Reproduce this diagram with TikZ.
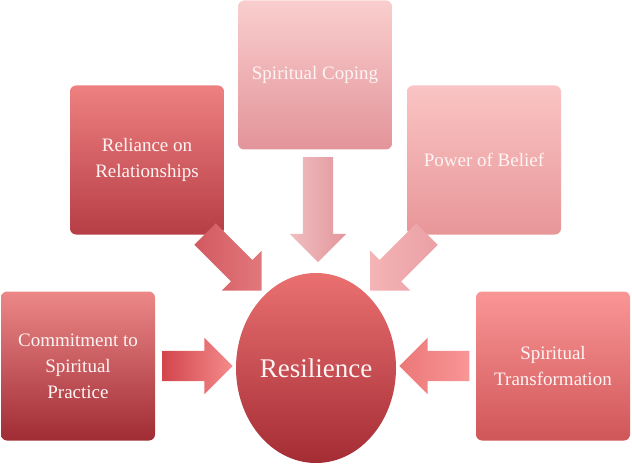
\documentclass[tikz,border=0pt]{standalone}
\usepackage{fontspec}
\setmainfont{Liberation Serif}
\usetikzlibrary{shapes.arrows,shapes.geometric}
\definecolor{txt}{HTML}{FFF4F4}
\tikzset{
  box/.style={rounded corners=6pt, minimum width=154pt, minimum height=149pt, align=center,
    text=txt, font=\fontsize{19}{26}\selectfont, draw=none},
  blk/.style={shape=single arrow, single arrow head extend=13pt, single arrow head indent=0pt,
    inner xsep=0pt, inner ysep=15pt, text width=0pt, draw=none},
}
\begin{document}
\begin{tikzpicture}[x=1pt,y=-1pt]
\useasboundingbox (0,0) rectangle (632,468);
\node[box, top color={rgb,255:red,236;green,136;blue,136}, bottom color={rgb,255:red,160;green,44;blue,52}] (c) at (78,366) {Commitment to\\Spiritual\\Practice};
\node[box, top color={rgb,255:red,238;green,128;blue,128}, bottom color={rgb,255:red,182;green,62;blue,70}] (r) at (147,160) {Reliance on\\Relationships};
\node[box, top color={rgb,255:red,250;green,206;blue,206}, bottom color={rgb,255:red,226;green,148;blue,154}] (s) at (315,75) {Spiritual Coping};
\node[box, top color={rgb,255:red,250;green,196;blue,196}, bottom color={rgb,255:red,232;green,150;blue,152}] (p) at (484,160) {Power of Belief};
\node[box, top color={rgb,255:red,250;green,150;blue,150}, bottom color={rgb,255:red,208;green,86;blue,88}] (t) at (553,366) {Spiritual\\Transformation};
\node[ellipse, minimum width=160pt, minimum height=190pt, inner sep=0pt, text=txt,
  font=\fontsize{27}{30}\selectfont, top color={rgb,255:red,234;green,112;blue,112},
  bottom color={rgb,255:red,164;green,44;blue,52}] (e) at (316,368) {Resilience};
% arrows
\node[blk, minimum height=70pt, left color={rgb,255:red,210;green,70;blue,76}, right color={rgb,255:red,244;green,140;blue,140}] (a1) at (190,366) {};
\node[blk, minimum height=70pt, rotate=180, left color={rgb,255:red,236;green,120;blue,120}, right color={rgb,255:red,248;green,150;blue,150}] (a2) at (442,366) {};
\node[blk, minimum height=105pt, rotate=-90, left color={rgb,255:red,240;green,190;blue,192}, right color={rgb,255:red,226;green,150;blue,156}] (a3) at (318,202) {};
\node[blk, minimum height=80pt, rotate=-45, left color={rgb,255:red,210;green,90;blue,96}, right color={rgb,255:red,226;green,120;blue,124}] (a4) at (228,257) {};
\node[blk, minimum height=80pt, rotate=-135, left color={rgb,255:red,244;green,180;blue,182}, right color={rgb,255:red,234;green,160;blue,164}] (a5) at (404,257) {};
\end{tikzpicture}
\end{document}
